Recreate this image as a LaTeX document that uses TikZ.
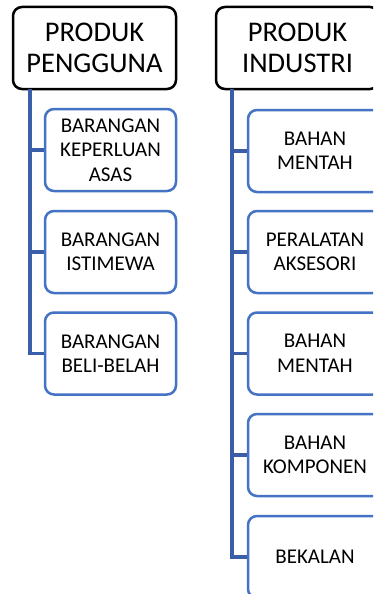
\documentclass[tikz,border=0pt]{standalone}
\usepackage{fontspec}
\setmainfont{Carlito}
\begin{document}
\begin{tikzpicture}[x=1pt,y=1pt,
  hdr/.style={draw=black, line width=2.5pt, rounded corners=9pt, fill=white,
    minimum width=163pt, minimum height=82pt, align=center, inner sep=0pt,
    font=\fontsize{28.5}{31}\selectfont},
  kid/.style={draw=blueA, line width=2.5pt, rounded corners=9pt, fill=white,
    minimum height=82pt, align=center, inner sep=0pt,
    font=\fontsize{21}{24.5}\selectfont},
  conn/.style={draw=blueB, line width=3.2pt}]
\definecolor{blueA}{HTML}{4472C4}
\definecolor{blueB}{HTML}{3A5EA8}
\path[clip, use as bounding box] (0,0) rectangle (373,-594);
\fill[white] (0,0) rectangle (373,-594);
% headers
\node[hdr] (hL) at (94.5,-48) {PRODUK\\PENGGUNA};
\node[hdr] (hR) at (297.5,-48) {PRODUK\\INDUSTRI};
\coordinate (tL) at (30,-89);
\coordinate (tR) at (232,-89);
% connectors
\draw[conn] (tL) |- (45,-150) coordinate (eL1);
\draw[conn] (tL) |- (45,-252) coordinate (eL2);
\draw[conn] (tL) |- (45,-353.5) coordinate (eL3);
\draw[conn] (tR) |- (248,-151) coordinate (eR1);
\draw[conn] (tR) |- (248,-252) coordinate (eR2);
\draw[conn] (tR) |- (248,-353.5) coordinate (eR3);
\draw[conn] (tR) |- (248,-455) coordinate (eR4);
\draw[conn] (tR) |- (248,-557) coordinate (eR5);
% left children
\node[kid, minimum width=131pt] (l1) at (110.5,-150) {BARANGAN\\KEPERLUAN\\ASAS};
\node[kid, minimum width=131pt] (l2) at (110.5,-252) {BARANGAN\\ISTIMEWA};
\node[kid, minimum width=131pt] (l3) at (110.5,-353.5) {BARANGAN\\BELI-BELAH};
% right children
\node[kid, minimum width=134pt] (r1) at (315,-151) {BAHAN\\MENTAH};
\node[kid, minimum width=134pt] (r2) at (315,-252) {PERALATAN\\AKSESORI};
\node[kid, minimum width=134pt] (r3) at (315,-353.5) {BAHAN\\MENTAH};
\node[kid, minimum width=134pt] (r4) at (315,-455) {BAHAN\\KOMPONEN};
\node[kid, minimum width=134pt] (r5) at (315,-557) {BEKALAN};
\end{tikzpicture}
\end{document}
